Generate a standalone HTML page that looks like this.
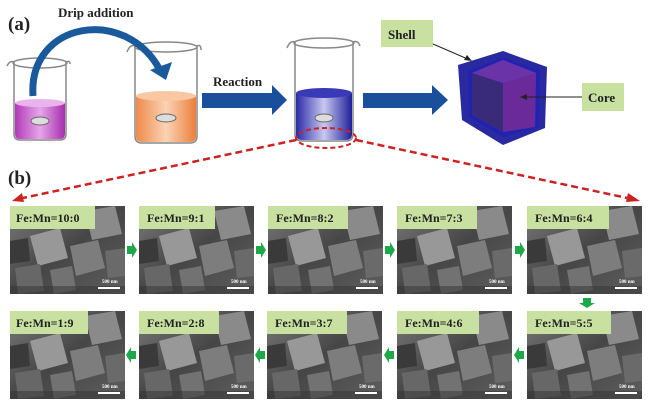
<!DOCTYPE html>
<html><head><meta charset="utf-8"><style>
html,body{margin:0;padding:0;background:#fff;width:650px;height:406px;overflow:hidden}
svg{display:block}
text{font-family:"Liberation Serif",serif;font-weight:bold}
</style></head><body>
<svg width="650" height="406" viewBox="0 0 650 406" xmlns="http://www.w3.org/2000/svg">
<defs>
<linearGradient id="mag" x1="0" x2="1"><stop offset="0" stop-color="#b03ab8"/><stop offset=".5" stop-color="#e6a6e8"/><stop offset="1" stop-color="#a52fae"/></linearGradient>
<linearGradient id="ora" x1="0" x2="1"><stop offset="0" stop-color="#ef8a4a"/><stop offset=".5" stop-color="#fbd3b5"/><stop offset="1" stop-color="#ec7f3c"/></linearGradient>
<linearGradient id="blu" x1="0" x2="1"><stop offset="0" stop-color="#2a2aa8"/><stop offset=".5" stop-color="#c8c8f0"/><stop offset="1" stop-color="#1e1e9a"/></linearGradient>
<linearGradient id="sem" x1="0" y1="0" x2="1" y2="1"><stop offset="0" stop-color="#7a7a7a"/><stop offset=".5" stop-color="#464646"/><stop offset="1" stop-color="#5e5e5e"/></linearGradient>
<g id="cubes">
<rect x="0" y="0" width="115" height="88" fill="url(#sem)"/>
<polygon points="20,30 50,22 58,52 28,60" fill="#989898"/>
<polygon points="60,40 88,34 95,62 66,70" fill="#7d7d7d"/>
<polygon points="75,5 105,0 112,28 82,34" fill="#8a8a8a"/>
<polygon points="5,62 30,58 34,85 8,88" fill="#676767"/>
<polygon points="40,64 62,60 66,84 44,88" fill="#727272"/>
<polygon points="95,45 115,42 115,70 98,72" fill="#6a6a6a"/>
<polygon points="0,35 18,32 20,55 0,58" fill="#3a3a3a"/>
<rect x="0" y="80" width="115" height="8" fill="#333" opacity=".5"/>
<line x1="88" y1="82" x2="110" y2="82" stroke="#fff" stroke-width="2"/>
<text x="92" y="77" font-size="5" fill="#fff">500 nm</text>
</g>
<g id="garr"><polygon points="0,-4 5,-4 5,-8 10,0 5,8 5,4 0,4" fill="#1ea84a"/></g>
</defs>

<text x="8" y="30" font-size="19" fill="#222">(a)</text>
<text x="58" y="17" font-size="13" fill="#222">Drip addition</text>

<path d="M7,66 Q10,60 14,62 L14,134 Q14,140 20,140 L60,140 Q66,140 66,134 L66,62 Q70,60 70,64" fill="none" stroke="#888" stroke-width="1.5"/>
<ellipse cx="40" cy="63" rx="27" ry="5" fill="none" stroke="#888" stroke-width="1.5"/>
<path d="M15,103 L65,103 L65,134 Q65,139 60,139 L20,139 Q15,139 15,134Z" fill="url(#mag)"/>
<ellipse cx="40" cy="103" rx="25" ry="4" fill="#e9b3eb"/>
<ellipse cx="40" cy="121" rx="9" ry="4" fill="#ddd" stroke="#666"/>

<path d="M127,52 Q130,44 135,46 L135,136 Q135,143 142,143 L190,143 Q197,143 197,136 L197,46 Q201,44 201,50" fill="none" stroke="#888" stroke-width="1.5"/>
<ellipse cx="166" cy="47" rx="31" ry="5" fill="none" stroke="#888" stroke-width="1.5"/>
<path d="M136,96 L196,96 L196,136 Q196,142 190,142 L142,142 Q136,142 136,136Z" fill="url(#ora)"/>
<ellipse cx="166" cy="96" rx="30" ry="5" fill="#f9c7a2"/>
<ellipse cx="166" cy="118" rx="10" ry="4" fill="#ddd" stroke="#666"/>

<path d="M33,96 C28,22 125,5 160,70" fill="none" stroke="#1a5a9c" stroke-width="7"/>
<polygon points="150,70 172,62 166,80" fill="#1a5a9c"/>

<text x="213" y="86" font-size="13" fill="#222">Reaction</text>
<polygon points="202,93 272,93 272,85 287,100 272,115 272,108 202,108" fill="#1a4f9c"/>

<path d="M287,48 Q290,40 295,42 L295,134 Q295,141 302,141 L346,141 Q353,141 353,134 L353,42 Q358,40 360,46" fill="none" stroke="#888" stroke-width="1.5"/>
<ellipse cx="324" cy="43" rx="30" ry="5" fill="none" stroke="#888" stroke-width="1.5"/>
<path d="M296,93 L352,93 L352,134 Q352,140 346,140 L302,140 Q296,140 296,134Z" fill="url(#blu)"/>
<ellipse cx="324" cy="93" rx="28" ry="5" fill="#3a3ab8"/>
<ellipse cx="324" cy="118" rx="9" ry="4" fill="#ddd" stroke="#666"/>
<ellipse cx="326" cy="138" rx="30" ry="10" fill="none" stroke="#cc2222" stroke-width="2" stroke-dasharray="5,3"/>

<polygon points="363,93 432,93 432,85 448,100 432,115 432,108 363,108" fill="#1a4f9c"/>

<polygon points="458,65 503,51 547,67 545,128 503,145 462,120" fill="#2a2aa0"/>
<polygon points="468,71 503,57 540,71 539,127 503,137 469,117" fill="#2222b0"/>
<polygon points="472,73 503,60 536,73 535,127 503,132 472,115" fill="#3a3ac8"/>
<polygon points="472,73 503,60 536,73 503,83" fill="#6a34a8"/>
<polygon points="472,73 503,83 503,132 472,115" fill="#3a2a7a"/>
<polygon points="503,83 536,73 535,127 503,132" fill="#6a2a9a"/>

<rect x="381" y="20" width="52" height="27" fill="#c8e0a0"/>
<text x="388" y="39" font-size="13" fill="#222">Shell</text>
<line x1="433" y1="44" x2="470" y2="60" stroke="#222" stroke-width="1"/>
<polygon points="472,61 464,60 467,55" fill="#222"/>
<rect x="582" y="83" width="42" height="28" fill="#c8e0a0"/>
<text x="588" y="102" font-size="13" fill="#222">Core</text>
<line x1="582" y1="97" x2="522" y2="97" stroke="#222" stroke-width="1"/>
<polygon points="520,97 527,94 527,100" fill="#222"/>

<text x="8" y="184" font-size="19" fill="#222">(b)</text>
<line x1="296" y1="140" x2="18" y2="199" stroke="#cc2222" stroke-width="2.5" stroke-dasharray="7,4"/>
<polygon points="12,201 22,193 24,202" fill="#cc2222"/>
<line x1="356" y1="140" x2="632" y2="199" stroke="#cc2222" stroke-width="2.5" stroke-dasharray="7,4"/>
<polygon points="640,201 628,193 626,202" fill="#cc2222"/>

<g transform="translate(10,206)"><use href="#cubes"/><rect width="85" height="23" fill="#c8e0a0"/><text x="6" y="16" font-size="12" fill="#222">Fe:Mn=10:0</text></g>
<g transform="translate(139,206)"><use href="#cubes"/><rect width="76" height="23" fill="#c8e0a0"/><text x="8" y="16" font-size="12" fill="#222">Fe:Mn=9:1</text></g>
<g transform="translate(268,206)"><use href="#cubes"/><rect width="80" height="23" fill="#c8e0a0"/><text x="8" y="16" font-size="12" fill="#222">Fe:Mn=8:2</text></g>
<g transform="translate(397,206)"><use href="#cubes"/><rect width="80" height="23" fill="#c8e0a0"/><text x="8" y="16" font-size="12" fill="#222">Fe:Mn=7:3</text></g>
<g transform="translate(527,206)"><use href="#cubes"/><rect width="82" height="23" fill="#c8e0a0"/><text x="8" y="16" font-size="12" fill="#222">Fe:Mn=6:4</text></g>

<g transform="translate(10,311)"><use href="#cubes"/><rect width="78" height="23" fill="#c8e0a0"/><text x="6" y="16" font-size="12" fill="#222">Fe:Mn=1:9</text></g>
<g transform="translate(139,311)"><use href="#cubes"/><rect width="80" height="23" fill="#c8e0a0"/><text x="8" y="16" font-size="12" fill="#222">Fe:Mn=2:8</text></g>
<g transform="translate(267,311)"><use href="#cubes"/><rect width="80" height="23" fill="#c8e0a0"/><text x="8" y="16" font-size="12" fill="#222">Fe:Mn=3:7</text></g>
<g transform="translate(397,311)"><use href="#cubes"/><rect width="82" height="23" fill="#c8e0a0"/><text x="8" y="16" font-size="12" fill="#222">Fe:Mn=4:6</text></g>
<g transform="translate(527,311)"><use href="#cubes"/><rect width="84" height="23" fill="#c8e0a0"/><text x="8" y="16" font-size="12" fill="#222">Fe:Mn=5:5</text></g>

<use href="#garr" transform="translate(127,250)"/>
<use href="#garr" transform="translate(256,250)"/>
<use href="#garr" transform="translate(385,250)"/>
<use href="#garr" transform="translate(515,250)"/>
<use href="#garr" transform="translate(587,298) rotate(90)"/>
<use href="#garr" transform="translate(524,355) rotate(180)"/>
<use href="#garr" transform="translate(394,355) rotate(180)"/>
<use href="#garr" transform="translate(265,355) rotate(180)"/>
<use href="#garr" transform="translate(136,355) rotate(180)"/>
</svg>
</body></html>
